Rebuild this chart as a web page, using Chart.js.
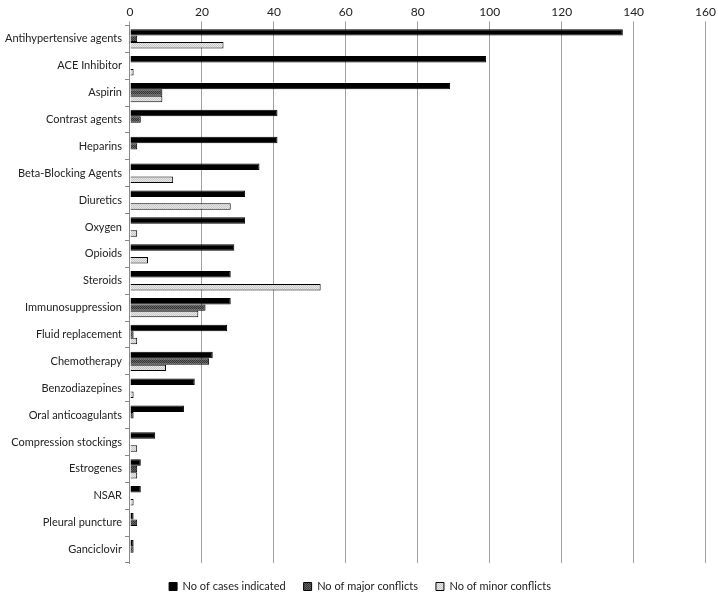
<!DOCTYPE html>
<html>
<head>
<meta charset="utf-8">
<script src="https://cdn.jsdelivr.net/npm/chart.js@4/dist/chart.umd.min.js"></script>
<style>
html,body{margin:0;padding:0;background:#fff;}
#wrap{width:718px;height:595px;position:relative;}
</style>
</head>
<body>
<div id="wrap"><canvas id="c" width="718" height="595"></canvas></div>
<script>
const categories = ["Antihypertensive agents","ACE Inhibitor","Aspirin","Contrast agents","Heparins","Beta-Blocking Agents","Diuretics","Oxygen","Opioids","Steroids","Immunosuppression","Fluid replacement","Chemotherapy","Benzodiazepines","Oral anticoagulants","Compression stockings","Estrogenes","NSAR","Pleural puncture","Ganciclovir"];
const casesIndicated = [137,99,89,41,41,36,32,32,29,28,28,27,23,18,15,7,3,3,1,1];
const majorConflicts = [2,0,9,3,2,0,0,0,0,0,21,1,22,0,1,0,2,0,2,1];
const minorConflicts = [26,1,9,0,0,12,28,2,5,53,19,2,10,1,0,2,2,1,0,0];
const seriesNames = ["No of cases indicated","No of major conflicts","No of minor conflicts"];
const xTicks = [0,20,40,60,80,100,120,140,160];

function makePattern(bg, fg){
  const p = document.createElement('canvas');
  p.width = 2; p.height = 2;
  const g = p.getContext('2d');
  g.fillStyle = bg; g.fillRect(0,0,2,2);
  g.fillStyle = fg; g.fillRect(0,0,1,1); g.fillRect(1,1,1,1);
  return document.getElementById('c').getContext('2d').createPattern(p,'repeat');
}
const darkPat = makePattern('#666666','#333333');
const lightPat = makePattern('#e8e8e8','#c8c8c8');

const FONT = "Lato, 'Open Sans', sans-serif";

const legendFit = {
  id: 'legendFit',
  beforeUpdate(chart){
    const lg = chart.legend;
    if (lg && !lg._patched){
      const orig = lg.fit;
      lg.fit = function(){ orig.call(this); this.height = 32; };
      lg._patched = true;
    }
  }
};

new Chart(document.getElementById('c'), {
  type: 'bar',
  data: {
    labels: categories,
    datasets: [
      {label: seriesNames[0], data: casesIndicated, backgroundColor: '#000', borderColor: '#000', borderWidth: 1},
      {label: seriesNames[1], data: majorConflicts, backgroundColor: darkPat, borderColor: '#000', borderWidth: 1},
      {label: seriesNames[2], data: minorConflicts, backgroundColor: lightPat, borderColor: '#000', borderWidth: 1}
    ]
  },
  plugins: [legendFit],
  options: {
    indexAxis: 'y',
    responsive: false,
    animation: false,
    devicePixelRatio: 1,
    layout: {padding: {left: 2, right: 0, top: 3, bottom: 0}},
    datasets: {bar: {categoryPercentage: 0.72, barPercentage: 1.0}},
    scales: {
      x: {
        position: 'top',
        min: 0, max: 160,
        afterBuildTicks: (ax) => { ax.ticks = xTicks.map(v => ({value: v})); },
        grid: {color: '#a0a0a0', lineWidth: 1, tickLength: 4, drawTicks: true},
        border: {display: false},
        ticks: {color: '#222', font: {family: FONT, size: 12}, padding: 2}
      },
      y: {
        grid: {offset: true, drawOnChartArea: false, color: '#888', tickLength: 5},
        border: {display: true, color: '#888'},
        ticks: {color: '#222', font: {family: FONT, size: 11}, padding: 3, autoSkip: false}
      }
    },
    plugins: {
      legend: {
        position: 'bottom',
        labels: {boxWidth: 8, boxHeight: 8, color: '#222', font: {family: FONT, size: 11}, padding: 18}
      },
      tooltip: {enabled: false}
    }
  }
});
</script>
</body>
</html>
